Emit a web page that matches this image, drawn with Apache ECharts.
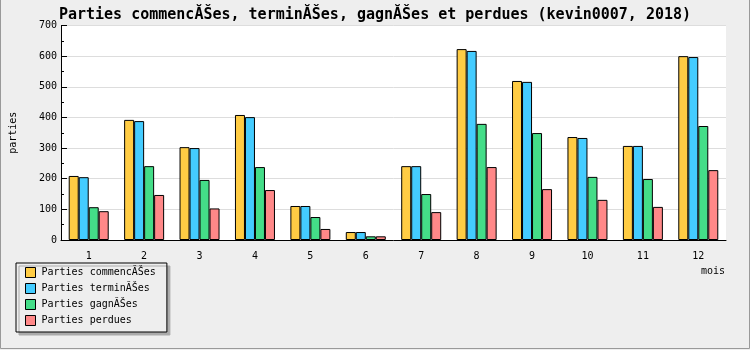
<!DOCTYPE html>
<html><head><meta charset="utf-8">
<script src="https://cdn.jsdelivr.net/npm/echarts@6/dist/echarts.min.js"></script>
<style>html,body{margin:0;padding:0;background:#eeeeee}#c{width:750px;height:350px}</style>
</head><body><div id="c"></div>
<script>
const months = ['1','2','3','4','5','6','7','8','9','10','11','12'];
const seriesNames = ['Parties commencĂŠes','Parties terminĂŠes','Parties gagnĂŠes','Parties perdues'];
const commencees = [209,392,303,408,111,26,241,623,519,336,307,600];
const terminees  = [205,388,300,401,111,26,241,617,516,333,307,597];
const gagnees    = [107,241,196,238,75,12,150,379,349,206,199,372];
const perdues    = [94,147,103,163,36,12,91,238,166,131,108,228];
const colors = ['#ffcc44','#44ccff','#44dd88','#ff8888'];
const yTicks = {min:0, max:700, interval:100};

const font = 'DejaVu Sans Mono';
const data = [commencees, terminees, gagnees, perdues];
const chart = echarts.init(document.getElementById('c'));
chart.setOption({
  animation: false,
  backgroundColor: '#eeeeee',
  title: {
    text: 'Parties commencĂŠes, terminĂŠes, gagnĂŠes et perdues (kevin0007, 2018)',
    left: 'center', top: 3,
    textStyle: {fontFamily: font, fontSize: 15, fontWeight: 'bold', color: '#000'}
  },
  grid: {left: 60, right: 24, top: 25.5, bottom: 110, show: true, backgroundColor: '#ffffff', borderWidth: 0},
  legend: {
    orient: 'vertical', left: 16, top: 263,
    itemWidth: 10, itemHeight: 10, itemGap: 5,
    padding: [4, 11, 6, 9],
    backgroundColor: '#eeeeee', borderColor: '#000', borderWidth: 1,
    shadowColor: '#aaaaaa', shadowOffsetX: 3, shadowOffsetY: 3, shadowBlur: 0,
    icon: 'rect',
    itemStyle: {borderColor: '#000', borderWidth: 1},
    textStyle: {fontFamily: font, fontSize: 10, color: '#000', padding: [0,0,0,1]},
    data: seriesNames
  },
  xAxis: {
    type: 'category', data: months,
    axisLine: {lineStyle: {color: '#000', width: 1}},
    axisTick: {inside: true, length: 5, lineStyle: {color: '#000'}},
    axisLabel: {fontFamily: font, fontSize: 10, color: '#000', margin: 11},
    splitLine: {show: false}
  },
  yAxis: {
    type: 'value', min: yTicks.min, max: yTicks.max, interval: yTicks.interval,
    name: 'parties', nameLocation: 'middle', nameRotate: 90, nameGap: 43,
    nameTextStyle: {fontFamily: font, fontSize: 10, color: '#000'},
    axisLine: {show: true, lineStyle: {color: '#000', width: 1}},
    axisTick: {show: true, inside: true, length: 6, lineStyle: {color: '#000'}},
    minorTick: {show: true, splitNumber: 2, length: 3, lineStyle: {color: '#000'}},
    axisLabel: {fontFamily: font, fontSize: 10, color: '#000', margin: 4},
    splitLine: {show: true, lineStyle: {color: '#dddddd', width: 1}}
  },
  graphic: [
    {type: 'text', right: 25, top: 266, style: {text: 'mois', font: '10px "DejaVu Sans Mono"', fill: '#000'}},
    {type: 'polyline', shape: {points: [[0.5,0],[0.5,348.5],[749.5,348.5],[749.5,0]]}, style: {stroke: '#999999', fill: null, lineWidth: 1}, silent: true}
  ],
  series: seriesNames.map((n, i) => ({
    name: n, type: 'bar', data: data[i], barWidth: 10, barGap: '0%',
    itemStyle: {color: colors[i], borderColor: '#000', borderWidth: 1}
  }))
});
</script></body></html>
